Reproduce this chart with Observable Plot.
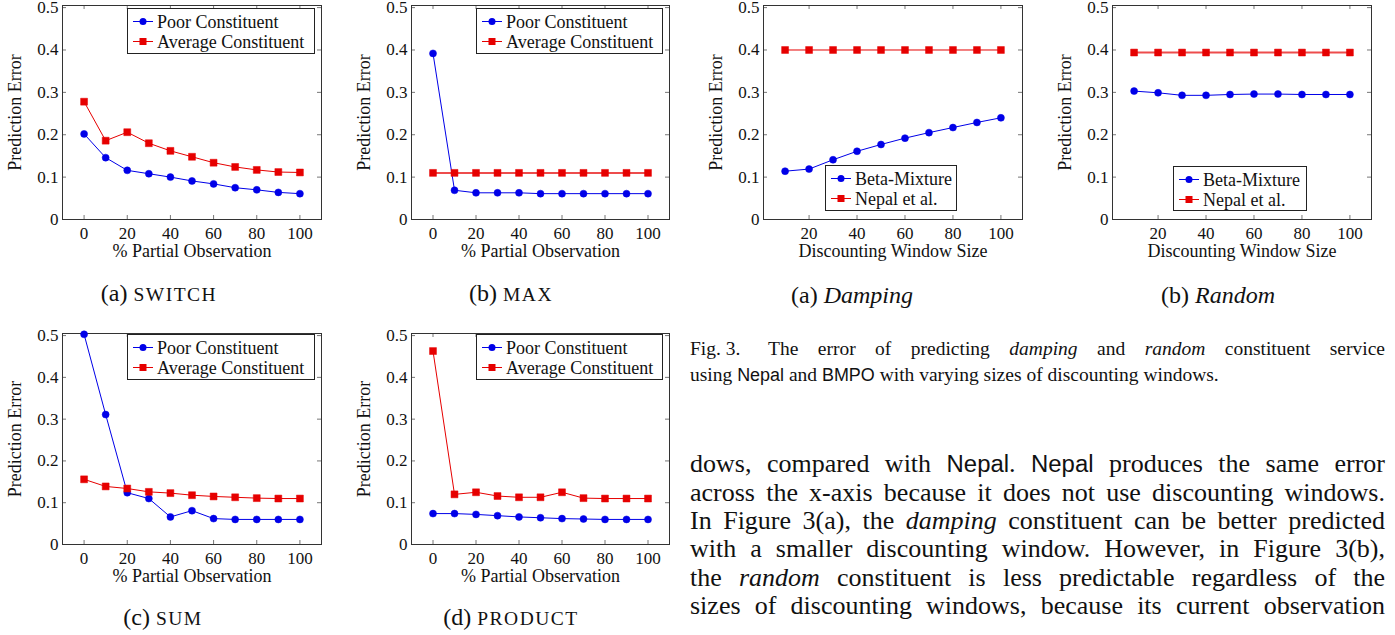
<!DOCTYPE html>
<html><head><meta charset="utf-8">
<script src="https://cdn.jsdelivr.net/npm/d3@7"></script>
<script src="https://cdn.jsdelivr.net/npm/@observablehq/plot@0.6"></script>
<style>
html,body{margin:0;padding:0;background:#fff;}
body{width:1395px;height:635px;overflow:hidden;position:relative;font-family:"Liberation Serif","Times New Roman",serif;color:#111;}
.cap{position:absolute;font-family:"Liberation Serif",serif;font-size:24px;white-space:nowrap;transform:translateX(-50%);line-height:28px;}
.sc{font-size:19.5px;letter-spacing:1.5px;}
.sans{font-family:"Liberation Sans",Arial,sans-serif;font-size:0.92em;}
.figcap{position:absolute;left:690px;width:695px;font-family:"Liberation Serif",serif;font-size:19.5px;line-height:22px;}
.figrow{display:flex;}
.figrow .lab{width:78px;flex:none;}
.figrow .rest{flex:1;text-align:justify;text-align-last:justify;}
.line{position:absolute;left:690px;width:695px;font-family:"Liberation Serif",serif;font-size:26px;line-height:28px;text-align:justify;text-align-last:justify;}
</style>
</head><body>
<script>
// ---------- data ----------
const pctX = [0, 10, 20, 30, 40, 50, 60, 70, 80, 90, 100];
const windowX = [10, 20, 30, 40, 50, 60, 70, 80, 90, 100];
const pctTicks = [0, 20, 40, 60, 80, 100];
const windowTicks = [20, 40, 60, 80, 100];
const yTicks = [0, 0.1, 0.2, 0.3, 0.4, 0.5];

const switchPoor = [0.202, 0.146, 0.116, 0.108, 0.100, 0.091, 0.084, 0.075, 0.070, 0.064, 0.061];
const switchAvg  = [0.278, 0.186, 0.206, 0.180, 0.162, 0.148, 0.134, 0.124, 0.117, 0.112, 0.111];
const maxPoor    = [0.392, 0.069, 0.063, 0.063, 0.063, 0.061, 0.061, 0.061, 0.061, 0.061, 0.061];
const maxAvg     = [0.110, 0.110, 0.110, 0.110, 0.110, 0.110, 0.110, 0.110, 0.110, 0.110, 0.110];
const sumPoor    = [0.503, 0.311, 0.124, 0.110, 0.066, 0.081, 0.062, 0.060, 0.060, 0.060, 0.060];
const sumAvg     = [0.156, 0.139, 0.134, 0.126, 0.123, 0.118, 0.115, 0.113, 0.111, 0.110, 0.110];
const productPoor = [0.074, 0.074, 0.072, 0.069, 0.066, 0.064, 0.062, 0.061, 0.060, 0.060, 0.060];
const productAvg  = [0.463, 0.120, 0.125, 0.116, 0.113, 0.113, 0.125, 0.111, 0.110, 0.110, 0.110];
const dampingBeta  = [0.114, 0.119, 0.141, 0.161, 0.177, 0.192, 0.205, 0.217, 0.229, 0.240];
const dampingNepal = [0.400, 0.400, 0.400, 0.400, 0.400, 0.400, 0.400, 0.400, 0.400, 0.400];
const randomBeta   = [0.303, 0.299, 0.293, 0.293, 0.295, 0.296, 0.296, 0.295, 0.295, 0.295];
const randomNepal  = [0.394, 0.394, 0.394, 0.394, 0.394, 0.394, 0.394, 0.394, 0.394, 0.394];

const poorName = "Poor Constituent", avgName = "Average Constituent";
const betaName = "Beta-Mixture", nepalName = "Nepal et al.";
const yLabel = "Prediction Error";
const pctLabel = "% Partial Observation";
const windowLabel = "Discounting Window Size";

// ---------- style ----------
const BLUE = "#0000e8", RED = "#e60000";
const FONT = "'Liberation Serif','Times New Roman',serif";

function chart({x, series, xDomain, xTicks, xLabel, frame, legendBox}) {
  const [fl, fr, ft, fb] = frame;
  const mL = 70, mR = 12, mT = 12, mB = 52;
  const fw = fr - fl, fh = fb - ft;
  const marks = [
    Plot.ruleY(yTicks, {insetRight: fw - 4, stroke: "#777"}),
    Plot.ruleY(yTicks, {insetLeft: fw - 4, stroke: "#777"}),
    Plot.ruleX(xTicks, {insetTop: fh - 4, stroke: "#777"}),
    Plot.ruleX(xTicks, {insetBottom: fh - 4, stroke: "#777"}),
    Plot.frame({stroke: "#333"}),
    Plot.axisY(yTicks, {tickSize: 0, tickPadding: 4, tickFormat: d => String(d), label: null}),
    Plot.axisX(xTicks, {tickSize: 0, tickPadding: 7, tickFormat: d => String(d), label: null}),
    Plot.text([xLabel], {frameAnchor: "bottom", dy: 31.5, lineAnchor: "middle", textAnchor: "middle", fontSize: 18}),
    Plot.text([yLabel], {frameAnchor: "left", dx: -47, rotate: -90, textAnchor: "middle", lineAnchor: "middle", fontSize: 18})
  ];
  for (const s of series) {
    const rows = x.map((xv, i) => ({x: xv, y: s.values[i]}));
    marks.push(Plot.line(rows, {x: "x", y: "y", stroke: s.color, strokeWidth: s.width || 1, strokeOpacity: s.opacity || 1}));
    marks.push(Plot.dot(rows, {x: "x", y: "y", symbol: s.symbol, r: s.symbol === "square" ? 3.9 : 3.5, fill: s.color, stroke: s.color, strokeWidth: 0.5}));
  }
  const p = Plot.plot({
    width: mL + fw + mR, height: mT + fh + mB,
    marginLeft: mL, marginRight: mR, marginTop: mT, marginBottom: mB,
    style: {fontFamily: FONT, fontSize: "17px", background: "transparent", color: "#111", overflow: "visible"},
    x: {domain: xDomain},
    y: {domain: [0, 0.505]},
    marks
  });
  p.style.position = "absolute";
  p.style.left = (fl - mL) + "px";
  p.style.top = (ft - mT) + "px";
  document.body.append(p);
  legend(legendBox, series);
}

function legend([left, top, w, h], series) {
  const svg = d3.create("svg").attr("width", w).attr("height", h)
    .style("position", "absolute").style("left", left + "px").style("top", top + "px");
  svg.append("rect").attr("x", 0.5).attr("y", 0.5).attr("width", w - 1).attr("height", h - 1)
    .attr("fill", "#fff").attr("stroke", "#222");
  series.forEach((s, i) => {
    const cy = 13.5 + i * 20;
    svg.append("line").attr("x1", 6).attr("x2", 26).attr("y1", cy).attr("y2", cy)
      .attr("stroke", s.color).attr("stroke-width", 1);
    if (s.symbol === "square") {
      svg.append("rect").attr("x", 12.5).attr("y", cy - 3.5).attr("width", 7).attr("height", 7).attr("fill", s.color);
    } else {
      svg.append("circle").attr("cx", 16).attr("cy", cy).attr("r", 3.5).attr("fill", s.color);
    }
    svg.append("text").attr("x", 30).attr("y", cy).attr("dy", "0.35em")
      .attr("font-family", FONT).attr("font-size", 18).attr("fill", "#111").text(s.name);
  });
  document.body.append(svg.node());
}

const pctDomain = [-10, 110];
const winDomain = [1, 109];

chart({x: pctX, xDomain: pctDomain, xTicks: pctTicks, xLabel: pctLabel, frame: [62, 321, 5, 219],
  legendBox: [127, 8, 188, 46],
  series: [{name: poorName, values: switchPoor, color: BLUE, symbol: "circle"},
           {name: avgName, values: switchAvg, color: RED, symbol: "square"}]});
chart({x: pctX, xDomain: pctDomain, xTicks: pctTicks, xLabel: pctLabel, frame: [411, 669, 5, 219],
  legendBox: [476, 8, 187, 46],
  series: [{name: poorName, values: maxPoor, color: BLUE, symbol: "circle"},
           {name: avgName, values: maxAvg, color: RED, symbol: "square", width: 2, opacity: 0.7}]});
chart({x: windowX, xDomain: winDomain, xTicks: windowTicks, xLabel: windowLabel, frame: [763, 1022, 5, 219],
  legendBox: [825, 165, 132, 46],
  series: [{name: betaName, values: dampingBeta, color: BLUE, symbol: "circle"},
           {name: nepalName, values: dampingNepal, color: RED, symbol: "square"}]});
chart({x: windowX, xDomain: winDomain, xTicks: windowTicks, xLabel: windowLabel, frame: [1112, 1371, 5, 219],
  legendBox: [1173, 166, 134, 45],
  series: [{name: betaName, values: randomBeta, color: BLUE, symbol: "circle"},
           {name: nepalName, values: randomNepal, color: RED, symbol: "square", width: 2, opacity: 0.7}]});
chart({x: pctX, xDomain: pctDomain, xTicks: pctTicks, xLabel: pctLabel, frame: [62, 321, 333, 544],
  legendBox: [127, 334, 188, 46],
  series: [{name: poorName, values: sumPoor, color: BLUE, symbol: "circle"},
           {name: avgName, values: sumAvg, color: RED, symbol: "square"}]});
chart({x: pctX, xDomain: pctDomain, xTicks: pctTicks, xLabel: pctLabel, frame: [411, 669, 333, 544],
  legendBox: [476, 334, 187, 46],
  series: [{name: poorName, values: productPoor, color: BLUE, symbol: "circle"},
           {name: avgName, values: productAvg, color: RED, symbol: "square"}]});

// ---------- captions and text ----------
function addHTML(html) { document.body.insertAdjacentHTML("beforeend", html); }
addHTML(`<div class="cap" style="left:159px;top:279px">(a) <span class="sc">SWITCH</span></div>`);
addHTML(`<div class="cap" style="left:511px;top:279px">(b) <span class="sc">MAX</span></div>`);
addHTML(`<div class="cap" style="left:852px;top:281px">(a) <i>Damping</i></div>`);
addHTML(`<div class="cap" style="left:1218px;top:281px">(b) <i>Random</i></div>`);
addHTML(`<div class="cap" style="left:163px;top:603px">(c) <span class="sc">SUM</span></div>`);
addHTML(`<div class="cap" style="left:511px;top:603px">(d) <span class="sc">PRODUCT</span></div>`);

addHTML(`<div class="figcap figrow" style="top:338px"><span class="lab">Fig. 3.</span><span class="rest">The error of predicting <i>damping</i> and <i>random</i> constituent service</span></div>`);
addHTML(`<div class="figcap" style="top:364px">using <span class="sans">Nepal</span> and <span class="sans">BMPO</span> with varying sizes of discounting windows.</div>`);

const bodyLines = [
  `dows, compared with <span class="sans">Nepal</span>. <span class="sans">Nepal</span> produces the same error`,
  `across the x-axis because it does not use discounting windows.`,
  `In Figure 3(a), the <i>damping</i> constituent can be better predicted`,
  `with a smaller discounting window. However, in Figure 3(b),`,
  `the <i>random</i> constituent is less predictable regardless of the`,
  `sizes of discounting windows, because its current observation`
];
const baselines = [473, 502, 530, 558, 587, 615];
bodyLines.forEach((t, i) => addHTML(`<div class="line" style="top:${baselines[i] - 23}px">${t}</div>`));
</script>
</body></html>
